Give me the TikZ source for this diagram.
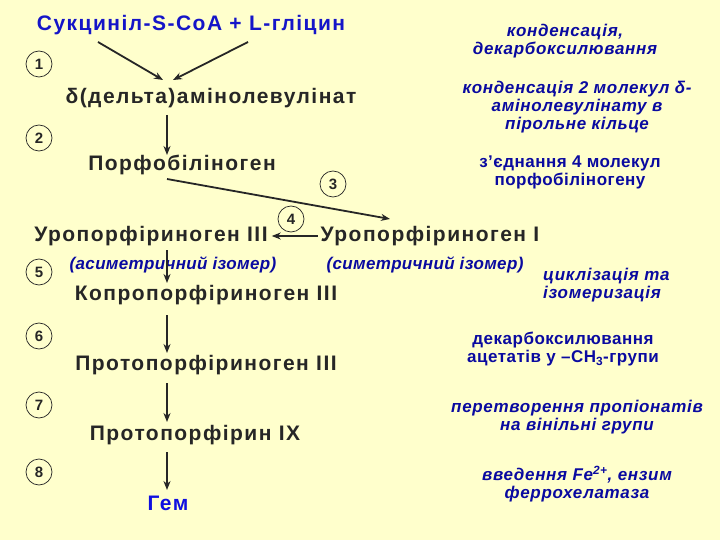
\documentclass[tikz,border=0pt]{standalone}
\usepackage{fontspec}
\setmainfont{Liberation Sans}
\newfontfamily\widemain[LetterSpace=7]{Liberation Sans}
\newfontfamily\widelbl[LetterSpace=3]{Liberation Sans}
\newfontfamily\wideit[LetterSpace=4]{Liberation Sans}
\newfontfamily\widesub[LetterSpace=2]{Liberation Sans}
\usetikzlibrary{arrows.meta}
\definecolor{bg}{HTML}{FFFFCC}
\definecolor{ink}{HTML}{262626}
\definecolor{blu}{HTML}{0A0AA0}
\definecolor{tblu}{HTML}{1515C8}
\definecolor{hblu}{HTML}{0F0FE0}
\begin{document}
\begin{tikzpicture}[x=1pt,y=-1pt,
 main/.style={font=\widemain\fontsize{21}{24}\selectfont\bfseries, text=ink, inner sep=0pt},
 sub/.style={font=\widesub\fontsize{17}{18}\selectfont\bfseries\itshape, text=blu, inner sep=0pt},
 lbl/.style={font=\wideit\fontsize{17}{18}\selectfont\bfseries\itshape, text=blu, align=center, inner sep=0pt},
 lblu/.style={font=\widelbl\fontsize{17}{18}\selectfont\bfseries, text=blu, align=center, inner sep=0pt},
 num/.style={draw=ink, circle, minimum size=26pt, inner sep=0pt, line width=0.7pt, font=\fontsize{15}{15}\selectfont\bfseries, text=ink},
 arr/.style={-{Stealth[length=9pt,width=7pt]}, line width=1.8pt, draw=ink}]
\fill[bg] (0,0) rectangle (720,540);
\useasboundingbox (0,0) rectangle (720,540);
% main chain
\node[main, text=tblu] (suc) at (191,25) {Сукциніл-S-CoA + L-гліцин};
\node[main] (ala) at (211,98) {δ(дельта)амінолевулінат};
\node[main] (pbg) at (182,165) {Порфобіліноген};
\node[main] (u3) at (151,236) {Уропорфіриноген III};
\node[main] (u1) at (430,236) {Уропорфіриноген I};
\node[sub] (as) at (173,265) {(асиметричний ізомер)};
\node[sub] (sy) at (425,265) {(симетричний ізомер)};
\node[main] (cp) at (206,295) {Копропорфіриноген III};
\node[main] (pp) at (206,365) {Протопорфіриноген III};
\node[main] (px) at (195,435) {Протопорфірин IX};
\node[main, text=hblu] (hem) at (168,503) {Гем};
% right labels
\node[lbl] (l1) at (565,41) {конденсація,\\декарбоксилювання};
\node[lbl] (l2) at (577,107) {конденсація 2 молекул δ-\\амінолевулінату в\\пірольне кільце};
\node[lblu] (l3) at (570,172) {з’єднання 4 молекул\\порфобіліногену};
\node[lbl, align=left, anchor=west] (l4) at (543,285) {циклізація та\\ізомеризація};
\node[lblu] (l5) at (563,349) {декарбоксилювання\\ацетатів у –CH\textsubscript{3}-групи};
\node[lbl] (l6) at (577,417) {перетворення пропіонатів\\на вінільні групи};
\node[lbl] (l7) at (577,484) {введення Fe\textsuperscript{2+}, ензим\\феррохелатаза};
% step numbers
\node[num] (n1) at (39,64) {1};
\node[num] (n2) at (39,138) {2};
\node[num] (n3) at (333,184) {3};
\node[num] (n4) at (291,219) {4};
\node[num] (n5) at (39,272) {5};
\node[num] (n6) at (39,336) {6};
\node[num] (n7) at (39,405) {7};
\node[num] (n8) at (39,472) {8};
% arrows
\draw[arr] ([shift={(-93,17)}]suc.center) -- ([shift={(-48,-18)}]ala.center);
\draw[arr] ([shift={(57,17)}]suc.center) -- ([shift={(-38,-18)}]ala.center);
\draw[arr] ([shift={(-44,17)}]ala.center) -- ([shift={(-15,-10)}]pbg.center);
\draw[arr] ([shift={(-15,14)}]pbg.center) -- ([shift={(-40,-17)}]u1.center);
\draw[arr] ([xshift=-3pt]u1.west) -- ([xshift=4pt]u3.east);
\draw[arr] ([shift={(16,14)}]u3.center) -- ([shift={(-39,-12)}]cp.center);
\draw[arr] ([shift={(-39,20)}]cp.center) -- ([shift={(-39,-12)}]pp.center);
\draw[arr] ([shift={(-39,18)}]pp.center) -- ([shift={(-28,-13)}]px.center);
\draw[arr] ([shift={(-28,17)}]px.center) -- ([shift={(-1,-13)}]hem.center);
\end{tikzpicture}
\end{document}
